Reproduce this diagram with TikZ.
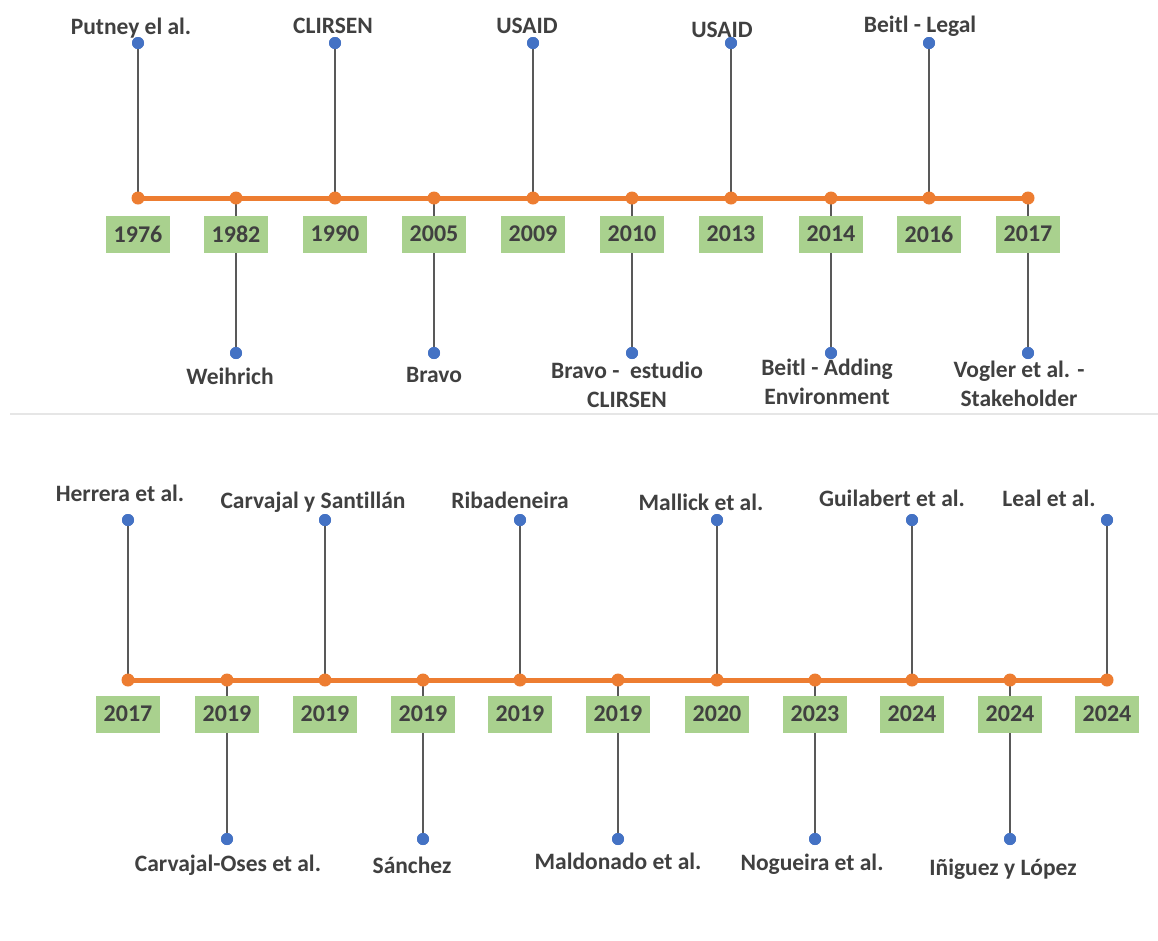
\documentclass[tikz,border=0pt]{standalone}
\usepackage{fontspec}
\setmainfont[Ligatures=NoCommon]{Carlito}
\definecolor{org}{HTML}{ED7D31}
\definecolor{blu}{HTML}{4472C4}
\definecolor{grn}{HTML}{A9D18E}
\definecolor{txt}{HTML}{404040}
\definecolor{stm}{HTML}{595959}
\definecolor{sep}{HTML}{E6E6E6}
\begin{document}
\begin{tikzpicture}[x=1pt,y=-1pt,
  lbl/.style={font=\fontsize{23.5}{29}\selectfont\bfseries, text=txt, align=center, inner sep=0pt},
  yrbox/.style={fill=grn, minimum width=64pt, minimum height=37pt, inner sep=0pt, font=\fontsize{24}{26}\selectfont\bfseries, text=txt},
  odot/.style={circle, fill=org, minimum size=13pt, inner sep=0pt},
  bdot/.style={circle, fill=blu, minimum size=12pt, inner sep=0pt},
  stem/.style={draw=stm, line width=1.3pt},
  tline/.style={draw=org, line width=5pt}]
\useasboundingbox (0,0) rectangle (1158,940);
\fill[white] (0,0) rectangle (1158,940);
% separator
\draw[sep, line width=2pt] (10,414) -- (1158,414);

% ---------- top timeline ----------
\foreach \i/\x in {1/138,2/236,3/335,4/434,5/533,6/632,7/731,8/831,9/929,10/1028}{
  \coordinate (t\i) at (\x,198);
}
\foreach \i/\x in {1/138,3/335,5/533,7/731,9/929}{
  \node[bdot] (tu\i) at (\x,43) {};
}
\foreach \i/\x in {2/236,4/434,6/632,8/831,10/1028}{
  \node[bdot] (td\i) at (\x,353) {};
}
\foreach \i in {1,3,5,7,9}{ \draw[stem] (t\i) -- (tu\i.center); }
\foreach \i in {2,4,6,8,10}{ \draw[stem] (t\i) -- (td\i.center); }
\draw[tline] (t1) -- (t10);
\foreach \i in {1,...,10}{ \node[odot] (to\i) at (t\i) {}; }
\foreach \i/\x/\yr in {1/138/1976,2/236/1982,3/335/1990,4/434/2005,5/533/2009,6/632/2010,7/731/2013,8/831/2014,9/929/2016,10/1028/2017}{
  \node[yrbox] (ty\i) at (\x,234) {\yr};
}
\foreach \i in {1,3,5,7,9}{ \node[bdot] at (tu\i) {}; }
\foreach \i in {2,4,6,8,10}{ \node[bdot] at (td\i) {}; }
\node[lbl] (tl1) at (131,28) {Putney el al.};
\node[lbl] (tl3) at (333,26) {CLIRSEN};
\node[lbl] (tl5) at (527,26) {USAID};
\node[lbl] (tl7) at (722,30) {USAID};
\node[lbl] (tl9) at (920,26) {Beitl - Legal};
\node[lbl] (tl2) at (230,376) {Weihrich};
\node[lbl] (tl4) at (434,375) {Bravo};
\node[lbl] (tl6) at (627,385) {Bravo -\ \ estudio\\CLIRSEN};
\node[lbl] (tl8) at (827,382) {Beitl - Adding\\Environment};
\node[lbl] (tl10) at (1019,384) {Vogler et al. -\\Stakeholder};

% ---------- bottom timeline ----------
\foreach \i/\x in {1/128,2/227,3/325,4/423,5/520,6/618,7/717,8/815,9/912,10/1010,11/1107}{
  \coordinate (b\i) at (\x,680);
}
\foreach \i/\x in {1/128,3/325,5/520,7/717,9/912,11/1107}{
  \node[bdot] (bu\i) at (\x,520) {};
}
\foreach \i/\x in {2/227,4/423,6/618,8/815,10/1010}{
  \node[bdot] (bd\i) at (\x,839) {};
}
\foreach \i in {1,3,5,7,9,11}{ \draw[stem] (b\i) -- (bu\i.center); }
\foreach \i in {2,4,6,8,10}{ \draw[stem] (b\i) -- (bd\i.center); }
\draw[tline] (b1) -- (b11);
\foreach \i in {1,...,11}{ \node[odot] (bo\i) at (b\i) {}; }
\foreach \i/\x/\yr in {1/128/2017,2/227/2019,3/325/2019,4/423/2019,5/520/2019,6/618/2019,7/717/2020,8/815/2023,9/912/2024,10/1010/2024,11/1107/2024}{
  \node[yrbox] (by\i) at (\x,714) {\yr};
}
\foreach \i in {1,3,5,7,9,11}{ \node[bdot] at (bu\i) {}; }
\foreach \i in {2,4,6,8,10}{ \node[bdot] at (bd\i) {}; }
\node[lbl] (bl1) at (120,493) {Herrera et al.};
\node[lbl] (bl3) at (313,502) {Carvajal y Santillán};
\node[lbl] (bl5) at (510,500) {Ribadeneira};
\node[lbl] (bl7) at (701,502) {Mallick et al.};
\node[lbl] (bl9) at (892,498) {Guilabert et al.};
\node[lbl] (bl11) at (1049,498) {Leal et al.};
\node[lbl] (bl2) at (228,865) {Carvajal-Oses et al.};
\node[lbl] (bl4) at (412,865) {Sánchez};
\node[lbl] (bl6) at (618,861) {Maldonado et al.};
\node[lbl] (bl8) at (812,864) {Nogueira et al.};
\node[lbl] (bl10) at (1003,869) {Iñiguez y López};
\end{tikzpicture}
\end{document}
